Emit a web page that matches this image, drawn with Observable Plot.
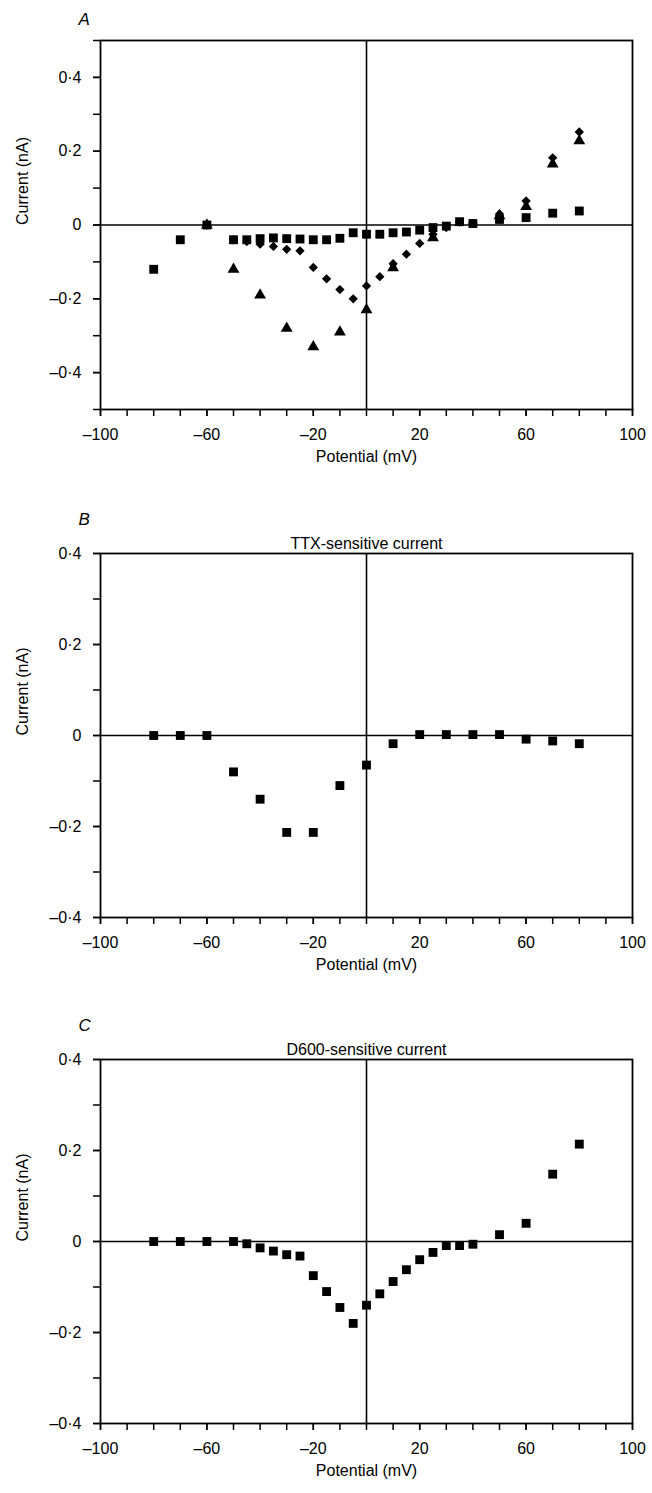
<!DOCTYPE html>
<html>
<head>
<meta charset="utf-8">
<script src="https://cdn.jsdelivr.net/npm/d3@7"></script>
<script src="https://cdn.jsdelivr.net/npm/@observablehq/plot@0.6"></script>
<style>
  body { margin: 0; background: #fff; }
  #chart svg { display: block; }
</style>
</head>
<body>
<div id="chart"></div>
<script>
// ---------- Panel A ----------
const aSquarePotential = [-80, -70, -60, -50, -45, -40, -35, -30, -25, -20, -15, -10, -5, 0, 5, 10, 15, 20, 25, 30, 35, 40, 50, 60, 70, 80];
const aSquareCurrent   = [-0.12, -0.04, 0, -0.04, -0.04, -0.037, -0.035, -0.037, -0.038, -0.04, -0.04, -0.036, -0.021, -0.025, -0.025, -0.021, -0.019, -0.014, -0.007, -0.003, 0.009, 0.004, 0.015, 0.02, 0.032, 0.038];
const aDiamondPotential = [-60, -50, -45, -40, -35, -30, -25, -20, -15, -10, -5, 0, 5, 10, 15, 20, 25, 30, 35, 40, 50, 60, 70, 80];
const aDiamondCurrent   = [0, -0.04, -0.045, -0.052, -0.058, -0.066, -0.07, -0.115, -0.146, -0.175, -0.2, -0.165, -0.14, -0.105, -0.079, -0.05, -0.025, -0.007, 0.008, 0.004, 0.03, 0.065, 0.182, 0.252];
const aTrianglePotential = [-60, -50, -40, -30, -20, -10, 0, 10, 25, 50, 60, 70, 80];
const aTriangleCurrent   = [0, -0.12, -0.19, -0.28, -0.33, -0.29, -0.23, -0.116, -0.035, 0.025, 0.05, 0.165, 0.228];

// ---------- Panel B: TTX-sensitive current ----------
const bPotential = [-80, -70, -60, -50, -40, -30, -20, -10, 0, 10, 20, 30, 40, 50, 60, 70, 80];
const bCurrent   = [0, 0, 0, -0.08, -0.14, -0.213, -0.213, -0.11, -0.065, -0.018, 0.002, 0.002, 0.002, 0.002, -0.008, -0.012, -0.018];

// ---------- Panel C: D600-sensitive current ----------
const cPotential = [-80, -70, -60, -50, -45, -40, -35, -30, -25, -20, -15, -10, -5, 0, 5, 10, 15, 20, 25, 30, 35, 40, 50, 60, 70, 80];
const cCurrent   = [0, 0, 0, 0, -0.005, -0.014, -0.021, -0.029, -0.032, -0.075, -0.11, -0.145, -0.18, -0.14, -0.115, -0.088, -0.062, -0.04, -0.024, -0.009, -0.009, -0.006, 0.015, 0.04, 0.148, 0.214];

// ---------- Axes / text ----------
const xDomain = [-100, 100];
const xTickLabels = [-100, -60, -20, 20, 60, 100];
const yTickLabels = [-0.4, -0.2, 0, 0.2, 0.4];
const panelLetters = ["A", "B", "C"];
const panelTitles = ["", "TTX-sensitive current", "D600-sensitive current"];
const xLabel = "Potential (mV)";
const yLabel = "Current (nA)";

const fmtX = v => (v < 0 ? "\u2013" : "") + Math.abs(v);
const fmtY = v => v === 0 ? "0" : (v < 0 ? "\u2013" : "") + Math.abs(v).toFixed(1).replace(".", "\u00b7");

function toRows(xs, ys, symbol) {
  return xs.map((x, i) => ({x, y: ys[i], symbol}));
}

function panel({rows, yDomain, height, marginTop, marginBottom, letter, letterDy, title}) {
  const yMinor = d3.ticks(yDomain[0], yDomain[1], Math.round((yDomain[1] - yDomain[0]) * 10));
  const xMinor = d3.range(xDomain[0], xDomain[1] + 1, 10);
  const sizes = {square: 5, diamond2: 4.2, triangle: 4.4};
  return Plot.plot({
    width: 652,
    height,
    marginTop,
    marginBottom,
    marginLeft: 100,
    marginRight: 20,
    style: {fontFamily: "'Liberation Sans', Arial, sans-serif", fontSize: "16px", background: "#fff", color: "#000"},
    x: {domain: xDomain},
    y: {domain: yDomain},
    marks: [
      Plot.ruleX([0], {strokeWidth: 1.6}),
      Plot.ruleY([0], {strokeWidth: 1.6}),
      Plot.frame({strokeWidth: 1.8}),
      Plot.axisX(xMinor, {tickSize: 7, strokeWidth: 1.5, tickFormat: () => "", label: null}),
      Plot.axisX(xTickLabels, {tickSize: 7, strokeWidth: 1.5, tickPadding: 12, tickFormat: fmtX, fontSize: 16, label: null}),
      Plot.axisY(yMinor, {tickSize: 7, strokeWidth: 1.5, tickFormat: () => "", label: null}),
      Plot.axisY(yTickLabels, {tickSize: 7, strokeWidth: 1.5, tickPadding: 12, tickFormat: fmtY, fontSize: 16, label: null}),
      ...["square", "diamond2", "triangle"].map(s =>
        Plot.dot(rows.filter(d => d.symbol === s), {x: "x", y: "y", symbol: () => s, r: sizes[s], fill: "#000", stroke: null})
      ),
      Plot.text([letter], {frameAnchor: "top-left", dx: -22, dy: letterDy, text: d => d, fontStyle: "italic", fontSize: 17}),
      Plot.text([title], {frameAnchor: "top", dy: -16, text: d => d, fontSize: 16}),
      Plot.text([yLabel], {frameAnchor: "left", dx: -78, rotate: -90, text: d => d, fontSize: 16}),
      Plot.text([xLabel], {frameAnchor: "bottom", dy: 52, text: d => d, fontSize: 16})
    ]
  });
}

const root = document.getElementById("chart");
root.append(panel({
  rows: [
    ...toRows(aSquarePotential, aSquareCurrent, "square"),
    ...toRows(aDiamondPotential, aDiamondCurrent, "diamond2"),
    ...toRows(aTrianglePotential, aTriangleCurrent, "triangle")
  ],
  yDomain: [-0.5, 0.5], height: 475, marginTop: 40, marginBottom: 66,
  letter: panelLetters[0], letterDy: -28, title: panelTitles[0]
}));
root.append(panel({
  rows: toRows(bPotential, bCurrent, "square"),
  yDomain: [-0.4, 0.4], height: 508, marginTop: 78, marginBottom: 66,
  letter: panelLetters[1], letterDy: -41, title: panelTitles[1]
}));
root.append(panel({
  rows: toRows(cPotential, cCurrent, "square"),
  yDomain: [-0.4, 0.4], height: 510, marginTop: 76, marginBottom: 70,
  letter: panelLetters[2], letterDy: -41, title: panelTitles[2]
}));
</script>
</body>
</html>
